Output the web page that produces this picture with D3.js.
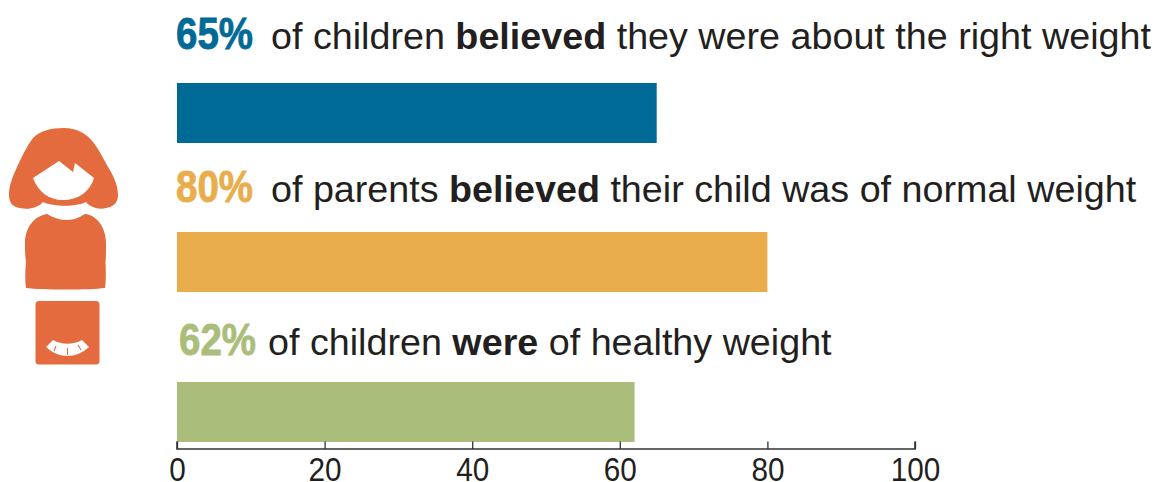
<!DOCTYPE html>
<html><head><meta charset="utf-8"><script src="https://d3js.org/d3.v7.min.js"></script>
<style>html,body{margin:0;padding:0;background:#fff;overflow:hidden}svg{display:block}</style></head>
<body><svg id="c" width="1157" height="482"></svg>
<script>
const categories=["children believed","parents believed","children were"];
const values=[65,80,62];
const colors=["#006a96","#eaad4b","#abbd7a"];
const tickValues=[0,20,40,60,80,100];
const labelParts=[
 [["of children ",400],["believed",700],[" they were about the right weight",400]],
 [["of parents ",400],["believed",700],[" their child was of normal weight",400]],
 [["of children ",400],["were",700],[" of healthy weight",400]]];
const svg=d3.select("#c");
const font="'Liberation Sans',Arial,sans-serif";
const x=d3.scaleLinear().domain([0,100]).range([177,915]);
const y=d3.scaleOrdinal().domain(categories).range([83,232,382]);
svg.selectAll("rect.b").data(values).join("rect").attr("class","b")
 .attr("x",x(0)).attr("y",(d,i)=>y(categories[i])).attr("height",60)
 .attr("width",d=>x(d)-x(0)).attr("fill",(d,i)=>colors[i]);
const ax=svg.append("g").attr("transform","translate(0,449)")
 .call(d3.axisBottom(x).tickValues(tickValues).tickFormat(d3.format("d")));
ax.select(".domain").attr("d","M177,-7.5V0H915V-7.5").attr("fill","none").attr("stroke","#333").attr("stroke-width",1.6);
ax.selectAll(".tick line").attr("y1",0).attr("y2",-7.5).attr("stroke","#333").attr("stroke-width",1.3);
ax.selectAll("text").attr("font-family",font).attr("font-size",33).attr("fill","#231f20").attr("y",32).attr("dy",0)
 .each(function(){this.setAttribute("textLength",this.getComputedTextLength()*0.9);this.setAttribute("lengthAdjust","spacingAndGlyphs");});
const pctX=[176,176,179],txtX=[271,271,268],base=[49,202,355];
values.forEach((v,i)=>{
 svg.append("text").attr("x",pctX[i]).attr("y",base[i]).attr("font-family",font)
  .attr("font-weight",700).attr("font-size",44).attr("textLength",77).attr("lengthAdjust","spacingAndGlyphs")
  .attr("fill",colors[i]).attr("stroke",colors[i]).attr("stroke-width",0.8).text(v+"%");
 const t=svg.append("text").attr("x",txtX[i]).attr("y",base[i]).attr("font-family",font).attr("font-size",37.7).attr("fill","#231f20");
 labelParts[i].forEach(p=>t.append("tspan").attr("font-weight",p[1]).style("white-space","pre").text(p[0]));
});
const g=svg.append("g").attr("fill","#e36b3d");
g.append("path").attr("d","M64,128C50,128 40,131 33,138C27,146 22,156 17,167C13,176 9,185 9,195C9,203 13,207 20,208C28,210 38,208 43,202C54,207 76,207 86,202C90,207 98,210 106,208C113,207 118,203 118,195C118,185 113,175 108,167C103,158 98,148 93,142C86,133 76,128 64,128Z");
g.append("path").attr("fill","#fff").attr("d","M33,178L59,161L73,172L75,163L94,178C90,192 78,200 63,200C49,200 38,192 33,178Z");
g.append("path").attr("d","M47,214C54,218 60,220 67,220C74,220 80,217 85,214C97,215 106,228 106,243C106,252 106,258 105.500,262C106,272 106,282 105,288C90,290 42,290 26,288C25,282 25,272 26,262C25,256 25,250 25,243C25,228 34,216 47,214Z");
g.append("rect").attr("x",35.500).attr("y",301).attr("width",64).attr("height",63.500).attr("rx",3.500);
g.append("path").attr("fill","#fff").attr("d","M46,347L53,340C62,345 73,345 82,340L89,347C76,359 59,359 46,347Z");
g.append("path").attr("fill","none").attr("stroke","#e36b3d").attr("stroke-width",1.100).attr("d","M56,346L54,351M67.500,348V355M78,345L81,350");
</script></body></html>
